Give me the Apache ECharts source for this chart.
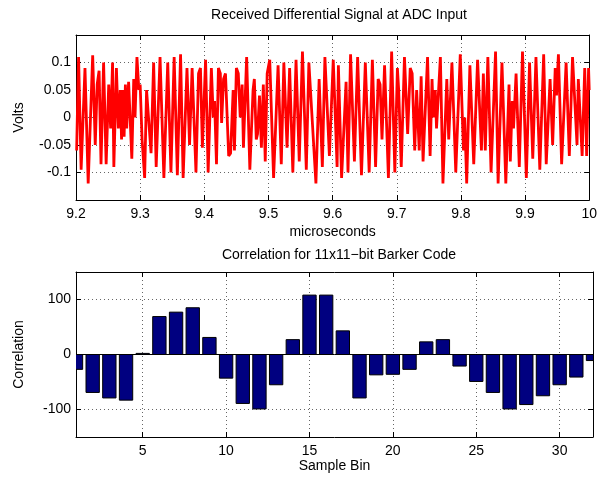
<!DOCTYPE html>
<html>
<head>
<meta charset="UTF-8">
<title>barker</title>
<script type="text/javascript" src="https://cdn.jsdelivr.net/npm/echarts@6/dist/echarts.min.js"></script>
</head>
<body style="margin:0">
<div id="main" style="width: 600px; height: 478px"></div>

<script type="text/javascript">
// received signal (microseconds, volts)
var sigTime = [
	9.201, 9.204, 9.208, 9.214, 9.219, 9.226, 9.230, 9.233, 9.236, 9.239,
	9.243, 9.247, 9.251, 9.254, 9.257, 9.259, 9.263, 9.266, 9.269, 9.271,
	9.273, 9.275, 9.277, 9.279, 9.282, 9.287, 9.290, 9.292, 9.295, 9.298,
	9.300, 9.303, 9.307, 9.310, 9.317, 9.321, 9.325, 9.331, 9.337, 9.343,
	9.348, 9.353, 9.358, 9.363, 9.367, 9.373, 9.377, 9.381, 9.387, 9.391,
	9.394, 9.397, 9.402, 9.406, 9.411, 9.414, 9.416, 9.419, 9.422, 9.425,
	9.427, 9.430, 9.433, 9.438, 9.441, 9.445, 9.447, 9.450, 9.453, 9.456,
	9.459, 9.461, 9.466, 9.471, 9.476, 9.478, 9.481, 9.483, 9.486, 9.489,
	9.492, 9.495, 9.498, 9.502, 9.508, 9.515, 9.520, 9.524, 9.529, 9.533,
	9.538, 9.543, 9.548, 9.553, 9.559, 9.563, 9.565, 9.574, 9.579, 9.584,
	9.588, 9.595, 9.601, 9.607, 9.609, 9.614, 9.621, 9.624, 9.628, 9.634,
	9.639, 9.645, 9.651, 9.657, 9.662, 9.667, 9.671, 9.674, 9.677, 9.681,
	9.687, 9.692, 9.697, 9.701, 9.703, 9.707, 9.712, 9.717, 9.721, 9.724,
	9.728, 9.731, 9.735, 9.738, 9.741, 9.748, 9.752, 9.755, 9.757, 9.760,
	9.762, 9.768, 9.772, 9.778, 9.781, 9.786, 9.792, 9.799, 9.804, 9.806,
	9.809, 9.814, 9.820, 9.826, 9.832, 9.835, 9.838, 9.842, 9.847, 9.854,
	9.858, 9.864, 9.870, 9.875, 9.877, 9.880, 9.882, 9.886, 9.891, 9.896,
	9.902, 9.907, 9.912, 9.917, 9.923, 9.929, 9.933, 9.939, 9.943, 9.947,
	9.949, 9.952, 9.957, 9.964, 9.969, 9.974, 9.981, 9.983, 9.986, 9.989,
	9.993, 9.996, 9.999, 10.0
];
var sigVolts = [
	-0.06, 0.11, -0.095, 0.09, -0.12, 0.113, -0.05, 0.06, 0.085, -0.085,
	0.10, -0.085, 0.06, -0.02, 0.10, -0.09, 0.09, -0.02, 0.05, -0.04,
	0.05, -0.035, 0.06, -0.02, 0.065, -0.075, 0.07, 0.0, 0.11, 0.05,
	0.06, -0.04, -0.11, 0.05, -0.065, 0.10, -0.09, 0.11, -0.11, 0.10,
	-0.10, 0.11, -0.105, 0.115, -0.11, 0.09, -0.05, 0.09, -0.10, 0.08,
	0.09, -0.055, 0.105, -0.10, 0.09, 0.0, 0.03, -0.085, 0.09, 0.08,
	-0.01, 0.07, 0.08, -0.07, -0.065, 0.05, -0.06, 0.09, 0.08, 0.0,
	0.06, -0.055, 0.11, -0.095, 0.05, 0.07, -0.04, -0.03, 0.04, -0.055,
	0.06, -0.08, 0.08, 0.105, -0.11, 0.095, -0.085, 0.10, -0.055, 0.09,
	-0.10, 0.105, -0.08, 0.12, -0.095, 0.10, 0.10, -0.12, 0.07, -0.09,
	0.11, -0.07, 0.105, -0.09, 0.095, -0.11, 0.065, -0.10, 0.115, -0.08,
	0.11, -0.105, 0.10, -0.10, 0.105, -0.09, 0.07, 0.06, -0.04, 0.095,
	-0.11, 0.12, -0.10, 0.09, 0.05, -0.09, 0.11, -0.03, 0.09, 0.08,
	-0.06, 0.05, -0.06, 0.075, -0.08, 0.11, -0.07, 0.07, 0.0, 0.05,
	-0.02, 0.11, -0.12, 0.07, -0.04, 0.10, -0.10, 0.115, -0.06, 0.0,
	-0.12, 0.095, -0.085, 0.105, -0.06, 0.08, -0.06, 0.11, -0.10, 0.12,
	-0.12, 0.10, -0.12, 0.06, -0.08, 0.03, -0.02, 0.08, -0.09, 0.12,
	-0.11, 0.10, -0.075, 0.11, -0.095, 0.115, -0.085, 0.07, -0.05, 0.09,
	0.04, 0.115, -0.085, 0.10, -0.07, 0.11, -0.05, 0.07, 0.07, -0.07,
	0.09, -0.07, 0.09, 0.05
];

// correlation output per sample bin
var bins = [1, 2, 3, 4, 5, 6, 7, 8, 9, 10, 11, 12, 13, 14, 15, 16,
	17, 18, 19, 20, 21, 22, 23, 24, 25, 26, 27, 28, 29, 30, 31, 32];
var corr = [-27, -69, -79, -83, 2, 69, 77, 85, 31, -43, -89, -99, -55, 27, 108, 108,
	43, -79, -37, -36, -27, 23, 27, -21, -49, -69, -99, -91, -75, -55, -41, -11];

// tick labels
var timeTicks = [9.2, 9.3, 9.4, 9.5, 9.6, 9.7, 9.8, 9.9, 10];
var voltTicks = [-0.1, -0.05, 0, 0.05, 0.1];
var binTicks = [5, 10, 15, 20, 25, 30];
var corrTicks = [-100, 0, 100];

var font = 'Liberation Sans, Arial, sans-serif';

function pick(list) {
	return function (v) {
		for (var i = 0; i < list.length; i++) {
			if (Math.abs(list[i] - v) < 1e-9) return String(list[i]);
		}
		return '';
	};
}

var sigData = [];
for (var i = 0; i < sigTime.length; i++) {
	sigData.push([sigTime[i], sigVolts[i]]);
}
var barData = [];
for (var j = 0; j < bins.length; j++) {
	barData.push([bins[j], corr[j]]);
}

var lineBlack = { show: true, onZero: false, lineStyle: { color: '#000', width: 1 } };
var tickIn = { show: true, inside: true, length: 5, lineStyle: { color: '#000' } };
var grid = { show: true, type: [1, 3], color: '#666', width: 1 };

function mirror(grid, pos, min, max, extra) {
	var a = {
		type: 'value', gridIndex: grid, position: pos, min: min, max: max,
		axisLine: lineBlack, axisTick: tickIn,
		axisLabel: { show: false }, splitLine: { show: false }
	};
	for (var k in extra) a[k] = extra[k];
	return a;
}

// bars drawn as rects so they clip at the plot edge like the original
function drawBar(params, api) {
	var x = api.value(0), v = api.value(1);
	var a = api.coord([x - 0.4, 0]);
	var b = api.coord([x + 0.4, v]);
	return {
		type: 'rect',
		shape: { x: a[0], y: Math.min(a[1], b[1]), width: b[0] - a[0], height: Math.abs(b[1] - a[1]) },
		style: { fill: '#000080', stroke: '#000', lineWidth: 1 }
	};
}

var mychart = echarts.init(document.getElementById('main'));
var option = {
	animation: false,
	backgroundColor: '#fff',
	textStyle: { fontFamily: font },
	title: [{
		text: 'Received Differential Signal at ADC Input',
		left: 334, top: 3, textAlign: 'center',
		textStyle: { fontSize: 14, fontWeight: 'normal', color: '#000', fontFamily: font }
	}, {
		text: 'Correlation for 11x11\u2212bit Barker Code',
		left: 334, top: 243, textAlign: 'center',
		textStyle: { fontSize: 14, fontWeight: 'normal', color: '#000', fontFamily: font }
	}],
	grid: [
		{ left: 76, right: 7, top: 35, height: 165 },
		{ left: 76, right: 7, top: 272, height: 165 }
	],
	xAxis: [{
		type: 'value', gridIndex: 0, min: 9.2, max: 10, interval: 0.1,
		name: 'microseconds', nameLocation: 'middle', nameGap: 25,
		nameTextStyle: { fontSize: 14, color: '#000', fontFamily: font },
		axisLine: lineBlack, axisTick: tickIn,
		axisLabel: { fontSize: 14, color: '#000', margin: 7, formatter: pick(timeTicks) },
		splitLine: { lineStyle: grid }
	},
	mirror(0, 'top', 9.2, 10, { interval: 0.1 }),
	{
		type: 'value', gridIndex: 1, min: 1, max: 32, splitNumber: 6,
		name: 'Sample Bin', nameLocation: 'middle', nameGap: 22,
		nameTextStyle: { fontSize: 14, color: '#000', fontFamily: font },
		axisLine: lineBlack, axisTick: tickIn,
		axisLabel: { fontSize: 14, color: '#000', margin: 7, formatter: pick(binTicks) },
		splitLine: { lineStyle: grid }
	},
	mirror(1, 'top', 1, 32, { splitNumber: 6 })],
	yAxis: [{
		type: 'value', gridIndex: 0, min: -0.15, max: 0.15, interval: 0.05,
		name: 'Volts', nameLocation: 'middle', nameGap: 50,
		nameTextStyle: { fontSize: 14, color: '#000', fontFamily: font },
		axisLine: lineBlack, axisTick: tickIn,
		axisLabel: { fontSize: 14, color: '#000', margin: 5, formatter: pick(voltTicks) },
		splitLine: { lineStyle: grid }
	},
	mirror(0, 'right', -0.15, 0.15, { interval: 0.05 }),
	{
		type: 'value', gridIndex: 1, min: -150, max: 150, splitNumber: 3,
		name: 'Correlation', nameLocation: 'middle', nameGap: 50,
		nameTextStyle: { fontSize: 14, color: '#000', fontFamily: font },
		axisLine: lineBlack, axisTick: tickIn,
		axisLabel: { fontSize: 14, color: '#000', margin: 5, formatter: pick(corrTicks) },
		splitLine: { lineStyle: grid }
	},
	mirror(1, 'right', -150, 150, { splitNumber: 3 })],
	series: [{
		type: 'line', xAxisIndex: 0, yAxisIndex: 0,
		data: sigData, showSymbol: false, clip: true,
		lineStyle: { color: '#ff0000', width: 2.8 }
	}, {
		type: 'custom', xAxisIndex: 2, yAxisIndex: 2,
		data: barData, clip: true, renderItem: drawBar,
		markLine: {
			silent: true, symbol: 'none', label: { show: false },
			lineStyle: { color: '#000', type: 'solid', width: 1 },
			data: [{ yAxis: 0 }]
		}
	}]
};
mychart.setOption(option);
</script>
</body>
</html>
